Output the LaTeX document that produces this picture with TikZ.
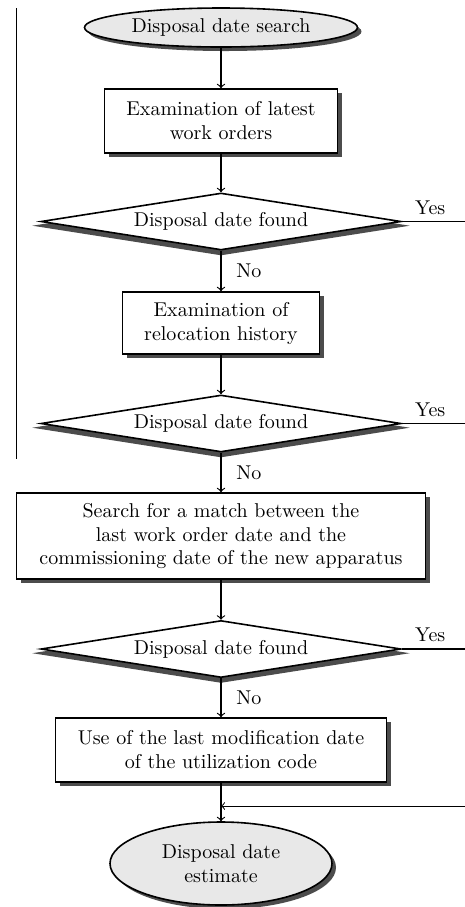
\documentclass[tikz,border=0pt]{standalone}
\usepackage{tikz}
\usetikzlibrary{calc, shapes, arrows, shadows}
\tikzstyle{stepbox} = [rectangle, draw, fill=white, line width=0.8pt, align=center, inner sep=0pt, drop shadow={shadow xshift=2pt, shadow yshift=-2pt, fill=black!70, opacity=1}]
\tikzstyle{terminal} = [ellipse, draw, fill=black!9, line width=0.8pt, align=center, inner sep=0pt, drop shadow={shadow xshift=2pt, shadow yshift=-2pt, fill=black!70, opacity=1}]
\tikzstyle{decision} = [diamond, draw, fill=white, line width=0.8pt, aspect=6.4, inner sep=0pt, minimum width=180pt, minimum height=28.5pt, drop shadow={shadow xshift=0pt, shadow yshift=-2pt, shadow scale=1.05, fill=black!70, opacity=1}]
\tikzstyle{line} = [draw, line width=0.6pt]

\begin{document}
\begin{tikzpicture}[x=0.5pt, y=-0.5pt]
        \useasboundingbox (0, 0) rectangle (465, 907);
        \coordinate (TopLeft) at (16, 8);
        \coordinate (BottomLeft) at (16, 459);
        \draw[line width=0.5pt] (TopLeft) -- (BottomLeft);

        \node[terminal, minimum width=136.5pt, minimum height=19.5pt] at (221, 27.5) (SearchStart) {Disposal date search};
        \node[stepbox, minimum width=116.5pt, minimum height=32pt] at (221, 121) (WorkOrders) {Examination of latest\\work orders};
        \node[decision] at (221, 221.5) (FoundA) {Disposal date found};
        \node[stepbox, minimum width=98.5pt, minimum height=31pt] at (221, 323) (Relocation) {Examination of\\relocation history};
        \node[decision] at (221, 423.5) (FoundB) {Disposal date found};
        \node[stepbox, minimum width=204.5pt, minimum height=43pt] at (221, 536) (MatchSearch) {Search for a match between the\\last work order date and the\\commissioning date of the new apparatus};
        \node[decision] at (221, 649) (FoundC) {Disposal date found};
        \node[stepbox, minimum width=165.5pt, minimum height=32pt] at (221, 750) (LastModif) {Use of the last modification date\\of the utilization code};
        \node[terminal, minimum width=111pt, minimum height=41.5pt] at (221, 863.5) (Estimate) {Disposal date\\estimate};

        \coordinate (YesA) at (465, 221.5);
        \coordinate (YesB) at (465, 423.5);
        \coordinate (YesC) at (465, 649);
        \coordinate (YesIn) at (465, 806);
        \coordinate (Merge) at (221, 806);

        \draw[line, ->] (SearchStart) -- (WorkOrders);
        \draw[line, ->] (WorkOrders) -- (FoundA);
        \draw[line, ->] (FoundA) -- node[right=4pt] {No} (Relocation);
        \draw[line, ->] (Relocation) -- (FoundB);
        \draw[line, ->] (FoundB) -- node[right=4pt] {No} (MatchSearch);
        \draw[line, ->] (MatchSearch) -- (FoundC);
        \draw[line, ->] (FoundC) -- node[right=4pt] {No} (LastModif);
        \draw[line, ->] (LastModif) -- (Estimate);

        \draw[line] (FoundA.east) -- node[pos=0.45, above] {Yes} (YesA);
        \draw[line] (FoundB.east) -- node[pos=0.45, above] {Yes} (YesB);
        \draw[line] (FoundC.east) -- node[pos=0.45, above] {Yes} (YesC);
        \draw[line width=0.5pt, ->] (YesIn) -- (Merge);
\end{tikzpicture}
\end{document}
